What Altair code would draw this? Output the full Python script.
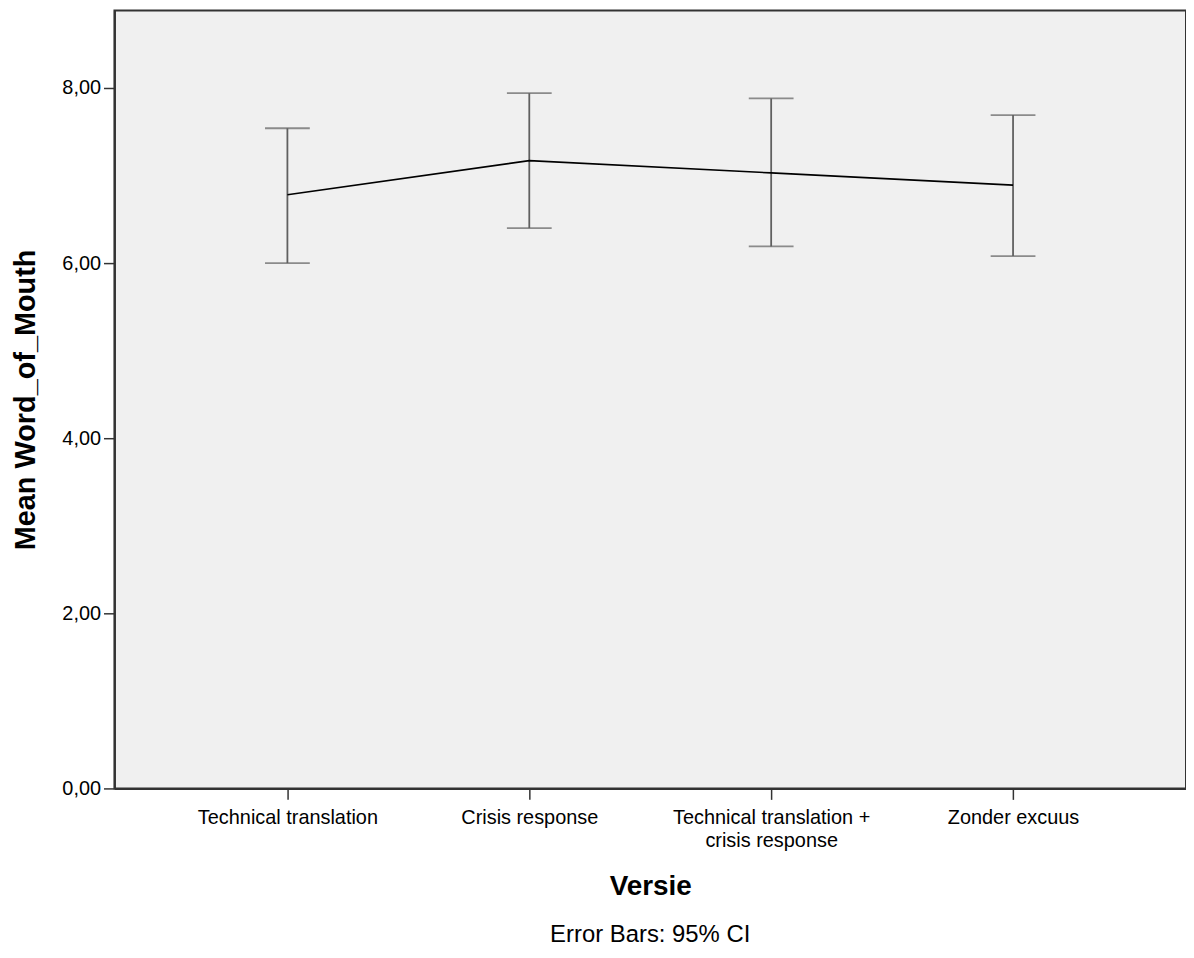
import altair as alt
import pandas as pd

categories = ["Technical translation", "Crisis response", "Technical translation + crisis response", "Zonder excuus"]
means = [6.78, 7.17, 7.03, 6.89]
lower = [6.00, 6.40, 6.19, 6.08]
upper = [7.54, 7.94, 7.88, 7.69]
y_ticks = [0, 2, 4, 6, 8]

df = pd.DataFrame({"Versie": categories, "mean": means, "lower": lower, "upper": upper})

FONT = "Liberation Sans"

x_enc = alt.X(
    "Versie:N",
    sort=categories,
    scale=alt.Scale(type="point", padding=0.715),
    axis=alt.Axis(
        title="Versie",
        titleFont=FONT, titleFontSize=28, titleFontWeight="bold", titleColor="#000000",
        titlePadding=23,
        labelFont=FONT, labelFontSize=20, labelColor="#000000", labelAngle=0,
        labelAlign="center", labelBaseline="top", labelLimit=400,
        labelPadding=8, labelLineHeight=23,
        labelExpr="datum.label == 'Technical translation + crisis response' ? ['Technical translation +', 'crisis response'] : datum.label",
        tickColor="#333333", tickSize=11, tickWidth=1.5,
        domainColor="#333333", domainWidth=2, grid=False,
    ),
)

y_scale = alt.Scale(domain=[0, 8.886], nice=False, zero=True)
y_axis = alt.Axis(
    title="Mean Word_of_Mouth",
    titleFont=FONT, titleFontSize=29, titleFontWeight="bold", titleColor="#000000",
    titlePadding=21,
    labelFont=FONT, labelFontSize=20, labelColor="#000000",
    labelPadding=3,
    labelExpr="replace(format(datum.value, '.2f'), '.', ',')",
    values=y_ticks,
    tickColor="#333333", tickSize=11, tickWidth=1.5,
    domainColor="#333333", domainWidth=2, grid=False,
)

base = alt.Chart(df)

line = base.mark_line(color="#000000", strokeWidth=1.6).encode(
    x=x_enc,
    y=alt.Y("mean:Q", scale=y_scale, axis=y_axis),
)

rule = base.mark_rule(color="#606060", strokeWidth=1.8).encode(
    x=alt.X("Versie:N", sort=categories),
    y=alt.Y("lower:Q"),
    y2="upper:Q",
)

cap_lo = base.mark_tick(color="#606060", size=45, thickness=1.8).encode(
    x=alt.X("Versie:N", sort=categories),
    y=alt.Y("lower:Q"),
)
cap_hi = base.mark_tick(color="#606060", size=45, thickness=1.8).encode(
    x=alt.X("Versie:N", sort=categories),
    y=alt.Y("upper:Q"),
)

chart = (
    alt.layer(rule, cap_lo, cap_hi, line)
    .properties(
        width=1077,
        height=782,
        autosize=alt.AutoSizeParams(type="none"),
        padding={"left": 107, "top": 0, "right": 0, "bottom": 160},
        view=alt.ViewBackground(fill="#f0f0f0", stroke="#333333", strokeWidth=2),
        title=alt.TitleParams(
            "Error Bars: 95% CI", orient="bottom", anchor="middle",
            font=FONT, fontSize=24, fontWeight="normal", color="#000000", offset=22,
        ),
    )
    .configure(background="#ffffff")
)

chart.save("out.html", embed_options={"renderer": "svg", "actions": False})
